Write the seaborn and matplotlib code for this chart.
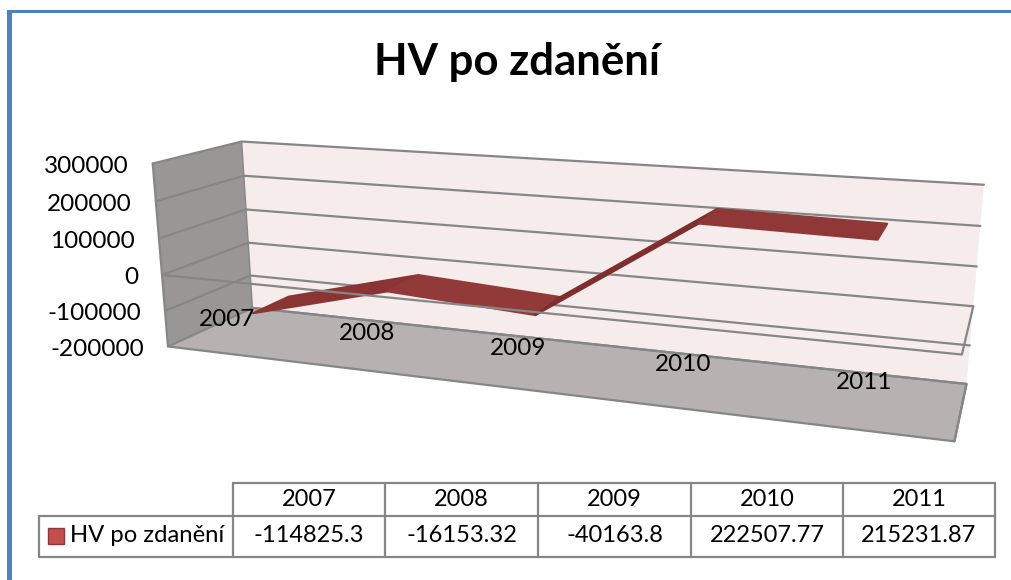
import numpy as np
import pandas as pd
import matplotlib.pyplot as plt
import seaborn as sns

# data
roky = ['2007', '2008', '2009', '2010', '2011']
hodnoty = [-114825.3, -16153.32, -40163.8, 222507.77, 215231.87]
hodnoty_text = ['-114825.3', '-16153.32', '-40163.8', '222507.77', '215231.87']
osa_y = [300000, 200000, 100000, 0, -100000, -200000]
nazev = 'HV po zdanění'

sns.set_theme(style='white')
plt.rcParams['font.family'] = ['Lato', 'DejaVu Sans']

# where the corners of the 3D box landed in the picture:
# (kategorie, hodnota, hloubka, px, py), hloubka 0 = front, 1 = back
rohy = [
    (0, 300000, 1, 242, 142), (0, 0, 1, 248, 243), (0, -200000, 1, 252, 308),
    (5, 300000, 1, 984, 185), (5, 0, 1, 973, 306), (5, -200000, 1, 967, 383),
    (0, 300000, 0, 152, 163), (0, 0, 0, 163, 274), (0, -200000, 0, 168, 347),
    (5, 0, 0, 962, 355), (5, -200000, 0, 954, 442),
]


def uroven(v):
    return np.asarray(v, dtype=float) / 100000 + 2


# fit a projection matrix on the corners
A, b = [], []
for kat, val, hl, px, py in rohy:
    X = [kat, uroven(val), hl, 1]
    A.append(X + [0, 0, 0, 0] + [-px * c for c in X[:3]])
    b.append(px)
    A.append([0, 0, 0, 0] + X + [-py * c for c in X[:3]])
    b.append(py)
p = np.linalg.lstsq(np.array(A, dtype=float), np.array(b, dtype=float), rcond=None)[0]
P = np.append(p, 1.0).reshape(3, 4)


def proj(kat, val, hl):
    kat, lev, hl = np.broadcast_arrays(np.asarray(kat, dtype=float), uroven(val), np.asarray(hl, dtype=float))
    X = np.stack([kat, lev, hl, np.ones_like(kat)])
    h = P @ X
    return h[0] / h[2], h[1] / h[2]


fig = plt.figure(figsize=(10.11, 5.8), dpi=100)
ax = fig.add_axes([0, 0, 1, 1])
ax.axis('off')

MODRA = '#4F81BD'
SEDA = '#868686'


def stena(kat, val, hl, barva):
    x, y = proj(kat, val, hl)
    ax.fill(x, y, color=barva, lw=0, zorder=1)


def cara(kat, val, hl, z=2, lw=1.6):
    x, y = proj(kat, val, hl)
    usek = pd.DataFrame({'x': x, 'y': y})
    sns.lineplot(data=usek, x='x', y='y', sort=False, estimator=None, color=SEDA,
                 lw=lw, legend=False, ax=ax, zorder=z)


# walls and floor
dno, vrch = osa_y[-1], osa_y[0]
stena([0, 5, 5, 0], [vrch, vrch, dno, dno], [1, 1, 1, 1], '#F6ECEC')
stena([0, 0, 0, 0], [vrch, vrch, dno, dno], [0, 1, 1, 0], '#9B9696')
stena([0, 5, 5, 0], [dno, dno, dno, dno], [0, 0, 1, 1], '#B8B1B1')

# gridlines on the back and side wall
for v in osa_y:
    cara([0, 0, 5], [v, v, v], [0, 1, 1])
cara([0, 0, 5, 5, 0], [vrch, dno, dno, dno, dno], [0, 0, 0, 1, 1])
cara([0, 0], [vrch, dno], [1, 1], lw=1.0)
cara([5, 5], [dno, dno], [0, 1])

# the ribbon of the series
pozice = np.arange(len(hodnoty)) + 0.5
HL_P, HL_Z = 0.26, 0.70
barvy = ['#8A3534', '#923A39', '#7D2E2D', '#8F3837']
for i in range(len(hodnoty) - 1):
    k = [pozice[i], pozice[i + 1], pozice[i + 1], pozice[i]]
    v = [hodnoty[i], hodnoty[i + 1], hodnoty[i + 1], hodnoty[i]]
    x, y = proj(k, v, [HL_P, HL_P, HL_Z, HL_Z])
    ax.fill(x, y, color=barvy[i], lw=1.6, joinstyle='round', zorder=3)

# the plane at zero stays in front of the ribbon
cara([0, 5, 5], [0, 0, 0], [0, 0, 1], z=4)

# axis labels
for v in osa_y:
    x, y = proj(0, v, 0)
    ax.text(x - 24, y + 3, str(v), ha='right', va='center', fontsize=17.5, color='black', zorder=5)
for k, r in zip(pozice, roky):
    x, y = proj(k, 0, 0)
    ax.text(x - 1, y + 38, r, ha='center', va='center', fontsize=17.5, color='black', zorder=5)

ax.text(517, 62, nazev, ha='center', va='center', fontsize=31.5, fontweight='bold', color='black')

# data table
sloupce = [233, 385, 538, 691, 843, 995]
for s in sloupce:
    ax.plot([s, s], [483, 557], color=SEDA, lw=1.6)
ax.plot([233, 995], [483, 483], color=SEDA, lw=1.6)
ax.plot([39, 995], [516, 516], color=SEDA, lw=1.6)
ax.plot([39, 995], [557, 557], color=SEDA, lw=1.6)
ax.plot([39, 39], [516, 557], color=SEDA, lw=1.6)
for i, r in enumerate(roky):
    stred = (sloupce[i] + sloupce[i + 1]) / 2
    ax.text(stred, 500, r, ha='center', va='center', fontsize=17, color='black')
    ax.text(stred, 536, hodnoty_text[i], ha='center', va='center', fontsize=17, color='black')
ax.add_patch(plt.Rectangle((48, 528), 16, 16, facecolor='#C0504D', edgecolor='#8E3836', lw=1))
ax.text(70, 536, nazev, ha='left', va='center', fontsize=17.2, color='black')

# blue frame of the slide
ax.fill([7, 12, 12, 7], [10, 10, 580, 580], color=MODRA, lw=0, zorder=6)
ax.fill([7, 1011, 1011, 7], [10, 10, 13, 13], color=MODRA, lw=0, zorder=6)

ax.set_xlim(0, 1011)
ax.set_ylim(580, 0)
ax.set_xlabel('')
ax.set_ylabel('')

fig.savefig('out.png', dpi=100)
